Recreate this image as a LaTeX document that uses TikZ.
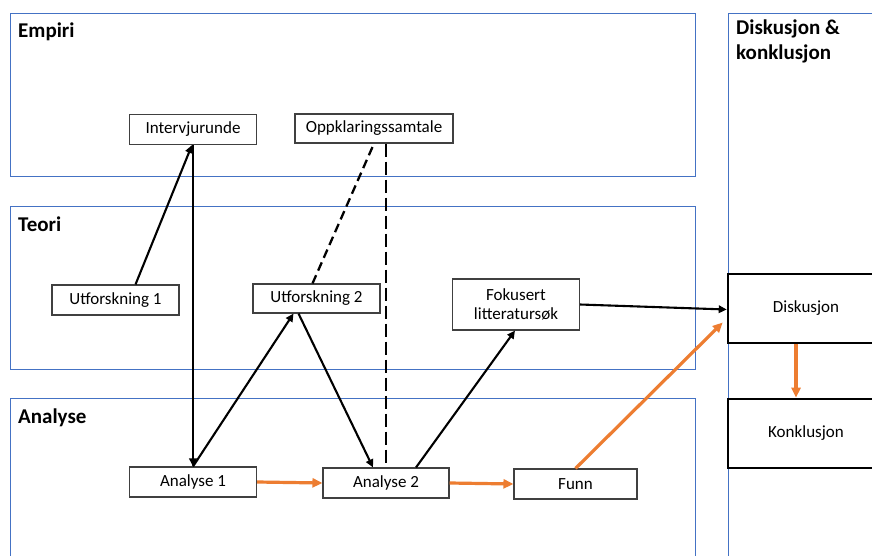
\documentclass[tikz,border=0pt]{standalone}
\usepackage{fontspec}
\setmainfont{Carlito}
\usetikzlibrary{arrows.meta}
\definecolor{panelblue}{HTML}{4472C4}
\definecolor{flow}{HTML}{ED7D31}
\definecolor{boxgray}{HTML}{404040}
\begin{document}
\begin{tikzpicture}[x=1pt,y=-1pt,
  panel/.style={draw=panelblue,line width=0.9pt},
  paneltitle/.style={anchor=base west,inner sep=0pt,font=\fontsize{21}{25}\selectfont\bfseries},
  stepbox/.style={draw=boxgray,line width=1.1pt,fill=white,minimum width=127pt,minimum height=30pt,
    inner sep=2pt,align=center,font=\fontsize{17}{20}\selectfont},
  endbox/.style={draw=black,line width=2.6pt,fill=white,minimum width=156pt,minimum height=69pt,
    inner sep=2pt,font=\fontsize{17}{20}\selectfont},
  link/.style={line width=2.1pt,-{Triangle[length=8pt,width=7.5pt]}},
  flowlink/.style={draw=flow,line width=3.2pt,-{Triangle[length=10pt,width=9pt]}},
  dashlink/.style={line width=2.3pt,dash pattern=on 9pt off 5pt},
  longdash/.style={line width=2.6pt,dash pattern=on 13pt off 5pt}]
\useasboundingbox (0,0) rectangle (872,556);
\fill[white] (0,0) rectangle (872,556);

% phase panels
\draw[panel] (10,13) rectangle (695,176);
\draw[panel] (10,206) rectangle (695,369);
\draw[panel] (10,398) rectangle (695,580);
\draw[panel] (728,13) rectangle (900,580);

\node[paneltitle] (tEmp) at (18,38) {Empiri};
\node[paneltitle] (tTeo) at (18,231) {Teori};
\node[paneltitle] (tAna) at (18,423) {Analyse};
\node[paneltitle,align=left,anchor=north west] (tDis) at (736,20)
  {\fontsize{21}{25}\selectfont Diskusjon \&\\ konklusjon};

% steps
\node[stepbox] (intv) at (193,129.5) {Intervjurunde};
\node[stepbox,minimum width=158pt,minimum height=29pt] (opk) at (374,128.5) {Oppklaringssamtale};
\node[stepbox] (u1) at (115.5,300) {Utforskning 1};
\node[stepbox,minimum height=29pt] (u2) at (316.5,298.5) {Utforskning 2};
\node[stepbox,minimum height=51pt] (fok) at (516,304.5) {Fokusert\\[-1pt]litteratursøk};
\node[stepbox] (a1) at (193,482) {Analyse 1};
\node[stepbox,minimum width=126pt] (a2) at (386,483) {Analyse 2};
\node[stepbox,minimum width=123pt] (funn) at (575.5,484) {Funn};
\node[endbox] (disk) at (806,308.5) {Diskusjon};
\node[endbox] (konk) at (806,433.5) {Konklusjon};

% dashed links to the clarification talk
\draw[dashlink] ([xshift=-4pt]u2.north) -- (opk.south);
\draw[longdash] ([xshift=12pt]opk.south) -- ([yshift=3pt]a2.north);

% black links
\draw[link] ([xshift=20pt]u1.north) -- ([xshift=-1pt]intv.south);
\draw[link] (intv.south) -- (a1.north);
\draw[link] (a1.north) -- ([xshift=-23pt]u2.south);
\draw[link] ([xshift=-18pt]u2.south) -- ([xshift=-13pt]a2.north);
\draw[link] ([xshift=30pt]a2.north) -- ([xshift=-1pt]fok.south);
\draw[link] (fok.east) -- ([yshift=-1pt]disk.west);

% orange flow
\draw[flowlink] (a1.east) -- (a2.west);
\draw[flowlink] (a2.east) -- (funn.west);
\draw[flowlink] (funn.north) -- ([xshift=-4pt,yshift=-14pt]disk.west);
\draw[flowlink] ([xshift=-10pt]disk.south) -- ([xshift=-10pt]konk.north);
\end{tikzpicture}
\end{document}
